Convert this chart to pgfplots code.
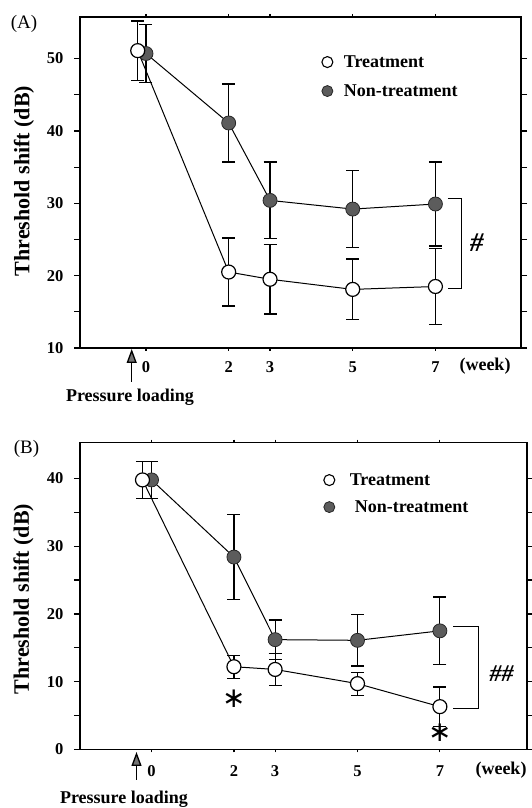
\documentclass[border=0pt]{standalone}
\usepackage{fontspec}
\setmainfont{Liberation Serif}
\newfontfamily\dejavu{DejaVu Sans}
\usepackage{pgfplots}
\usepackage{pgfplotstable}
\pgfplotsset{compat=1.18}
\usetikzlibrary{arrows.meta}

\pgfplotstableread{
x y e
-0.2 51.1 4.1
2 20.5 4.7
3 19.5 4.8
5 18.1 4.2
7 18.5 5.3
}\treatA
\pgfplotstableread{
x y e
0 50.7 4.0
2 41.1 5.4
3 30.4 5.3
5 29.2 5.3
7 29.9 5.8
}\nontreatA
\pgfplotstableread{
x y e
-0.22 39.8 2.7
2 12.2 1.7
3 11.8 2.4
5 9.7 1.7
7 6.3 2.9
}\treatB
\pgfplotstableread{
x y e
0 39.8 2.7
2 28.4 6.3
3 16.2 2.9
5 16.1 3.8
7 17.5 5.0
}\nontreatB

\pgfplotsset{
  myaxis/.style={
    scale only axis,
    anchor=south west,
    clip=false,
    axis line style={line width=1.5pt},
    tick style={line width=1.2pt, black},
    tick align=outside,
    major tick length=6pt,
    minor tick length=6pt,
    xtick style={/pgfplots/major tick length=3pt},
    xtick={0,2,3,5,7},
    minor y tick num=1,
    /pgf/number format/assume math mode=true,
    ticklabel style={font=\bfseries\fontsize{16.5}{17}\selectfont},
    yticklabel style={xshift=-7pt},
    legend cell align=left,
    legend image code/.code={\draw[#1] plot coordinates {(0pt,0pt)};},
  },
  treat/.style={black, line width=1pt, mark=*, mark size=7pt,
    mark options={fill=white, draw=black, line width=1.2pt},
    error bars/.cd, y dir=both, y explicit,
    error bar style={line width=1.2pt, black},
    error mark options={rotate=90, mark size=6.5pt, line width=1.2pt, black}},
  nontreat/.style={black, line width=1pt, mark=*, mark size=7pt,
    mark options={fill=black!64, draw=black!85, line width=0.8pt},
    error bars/.cd, y dir=both, y explicit,
    error bar style={line width=1.2pt, black},
    error mark options={rotate=90, mark size=6.5pt, line width=1.2pt, black}},
}

\begin{document}
\begin{tikzpicture}[x=1pt,y=1pt]
\useasboundingbox (0,0) rectangle (532,808);

% ---------- Panel A ----------
\begin{axis}[myaxis, at={(80pt,460pt)}, width=441pt, height=331pt,
  xmin=-1.596, xmax=9.07, ymin=10, ymax=55.75,
  ytick={10,20,30,40,50},
  xticklabel style={anchor=base, yshift=-19pt},
  legend style={draw=none, fill=none, inner sep=0pt, at={(rel axis cs:0.548,0.820)}, anchor=west,
    row sep=15pt, column sep=11pt,
    nodes={inner sep=0pt, text height=12pt, text depth=2pt, font=\bfseries\fontsize{18}{18}\selectfont}},
]
\addlegendimage{only marks, mark=*, mark size=5.5pt, mark options={fill=white, draw=black, line width=1.1pt}}
\addlegendentry{Treatment}
\addlegendimage{only marks, mark=*, mark size=5.5pt, mark options={fill=black!64, draw=black!85, line width=0.8pt}}
\addlegendentry{Non-treatment}
\addplot[nontreat] table[x=x, y=y, y error=e] {\nontreatA};
\addplot[treat] table[x=x, y=y, y error=e] {\treatA};
\draw[line width=1.1pt] (axis cs:7.30,30.7) -- (axis cs:7.62,30.7) -- (axis cs:7.62,18.25) -- (axis cs:7.30,18.25);
\node[font=\bfseries\itshape\fontsize{27}{27}\selectfont] at (axis cs:8.0,24.5) {\#};
\end{axis}

% ---------- Panel B ----------
\begin{axis}[myaxis, at={(80pt,58.7pt)}, width=447pt, height=306.6pt,
  xmin=-1.737, xmax=9.115, ymin=0, ymax=45.3,
  ytick={0,10,20,30,40},
  xticklabel style={anchor=base, yshift=-21pt},
  legend style={draw=none, fill=none, inner sep=0pt, at={(rel axis cs:0.545,0.834)}, anchor=west,
    row sep=13pt, column sep=15pt,
    nodes={inner sep=0pt, text height=12pt, text depth=2pt, font=\bfseries\fontsize{18}{18}\selectfont}},
]
\addlegendimage{only marks, mark=*, mark size=5.5pt, mark options={fill=white, draw=black, line width=1.1pt}}
\addlegendentry{Treatment}
\addlegendimage{only marks, mark=*, mark size=5.5pt, mark options={fill=black!64, draw=black!85, line width=0.8pt}}
\addlegendentry{\hspace{5pt}Non-treatment}
\addplot[nontreat] table[x=x, y=y, y error=e] {\nontreatB};
\addplot[treat] table[x=x, y=y, y error=e] {\treatB};
\draw[line width=1.1pt] (axis cs:7.33,18.1) -- (axis cs:7.93,18.1) -- (axis cs:7.93,6.06) -- (axis cs:7.33,6.06);
\node[font=\bfseries\itshape\fontsize{24}{24}\selectfont] at (axis cs:8.5,11.2) {\#\#};
\node[inner sep=0pt, font=\dejavu\fontsize{28}{28}\selectfont] at (axis cs:2.0,7.5) {∗};
\node[inner sep=0pt, font=\dejavu\fontsize{28}{28}\selectfont] at (axis cs:7.0,2.4) {∗};
\end{axis}

% ---------- free text ----------
\node[font=\fontsize{19}{19}\selectfont] at (24,784) {(A)};
\node[font=\fontsize{19}{19}\selectfont] at (26.5,359) {(B)};
\node[font=\bfseries\fontsize{22}{22}\selectfont, rotate=90] at (24,627) {Threshold shift (dB)};
\node[font=\bfseries\fontsize{22}{22}\selectfont, rotate=90] at (23.5,209) {Threshold shift (dB)};
\node[font=\bfseries\fontsize{18}{18}\selectfont, anchor=base] at (485,437) {(week)};
\node[font=\bfseries\fontsize{18}{18}\selectfont, anchor=base] at (501,33) {(week)};
\draw[line width=1.3pt, -{Triangle[width=10pt,length=14pt,fill=black!55]}] (131.7,426) -- (131.7,459);
\draw[line width=1.3pt, -{Triangle[width=10pt,length=14pt,fill=black!55]}] (136.5,28) -- (136.5,56);
\node[font=\bfseries\fontsize{18}{18}\selectfont, anchor=base] at (130,406) {Pressure loading};
\node[font=\bfseries\fontsize{18}{18}\selectfont, anchor=base] at (124,5) {Pressure loading};
\end{tikzpicture}
\end{document}
